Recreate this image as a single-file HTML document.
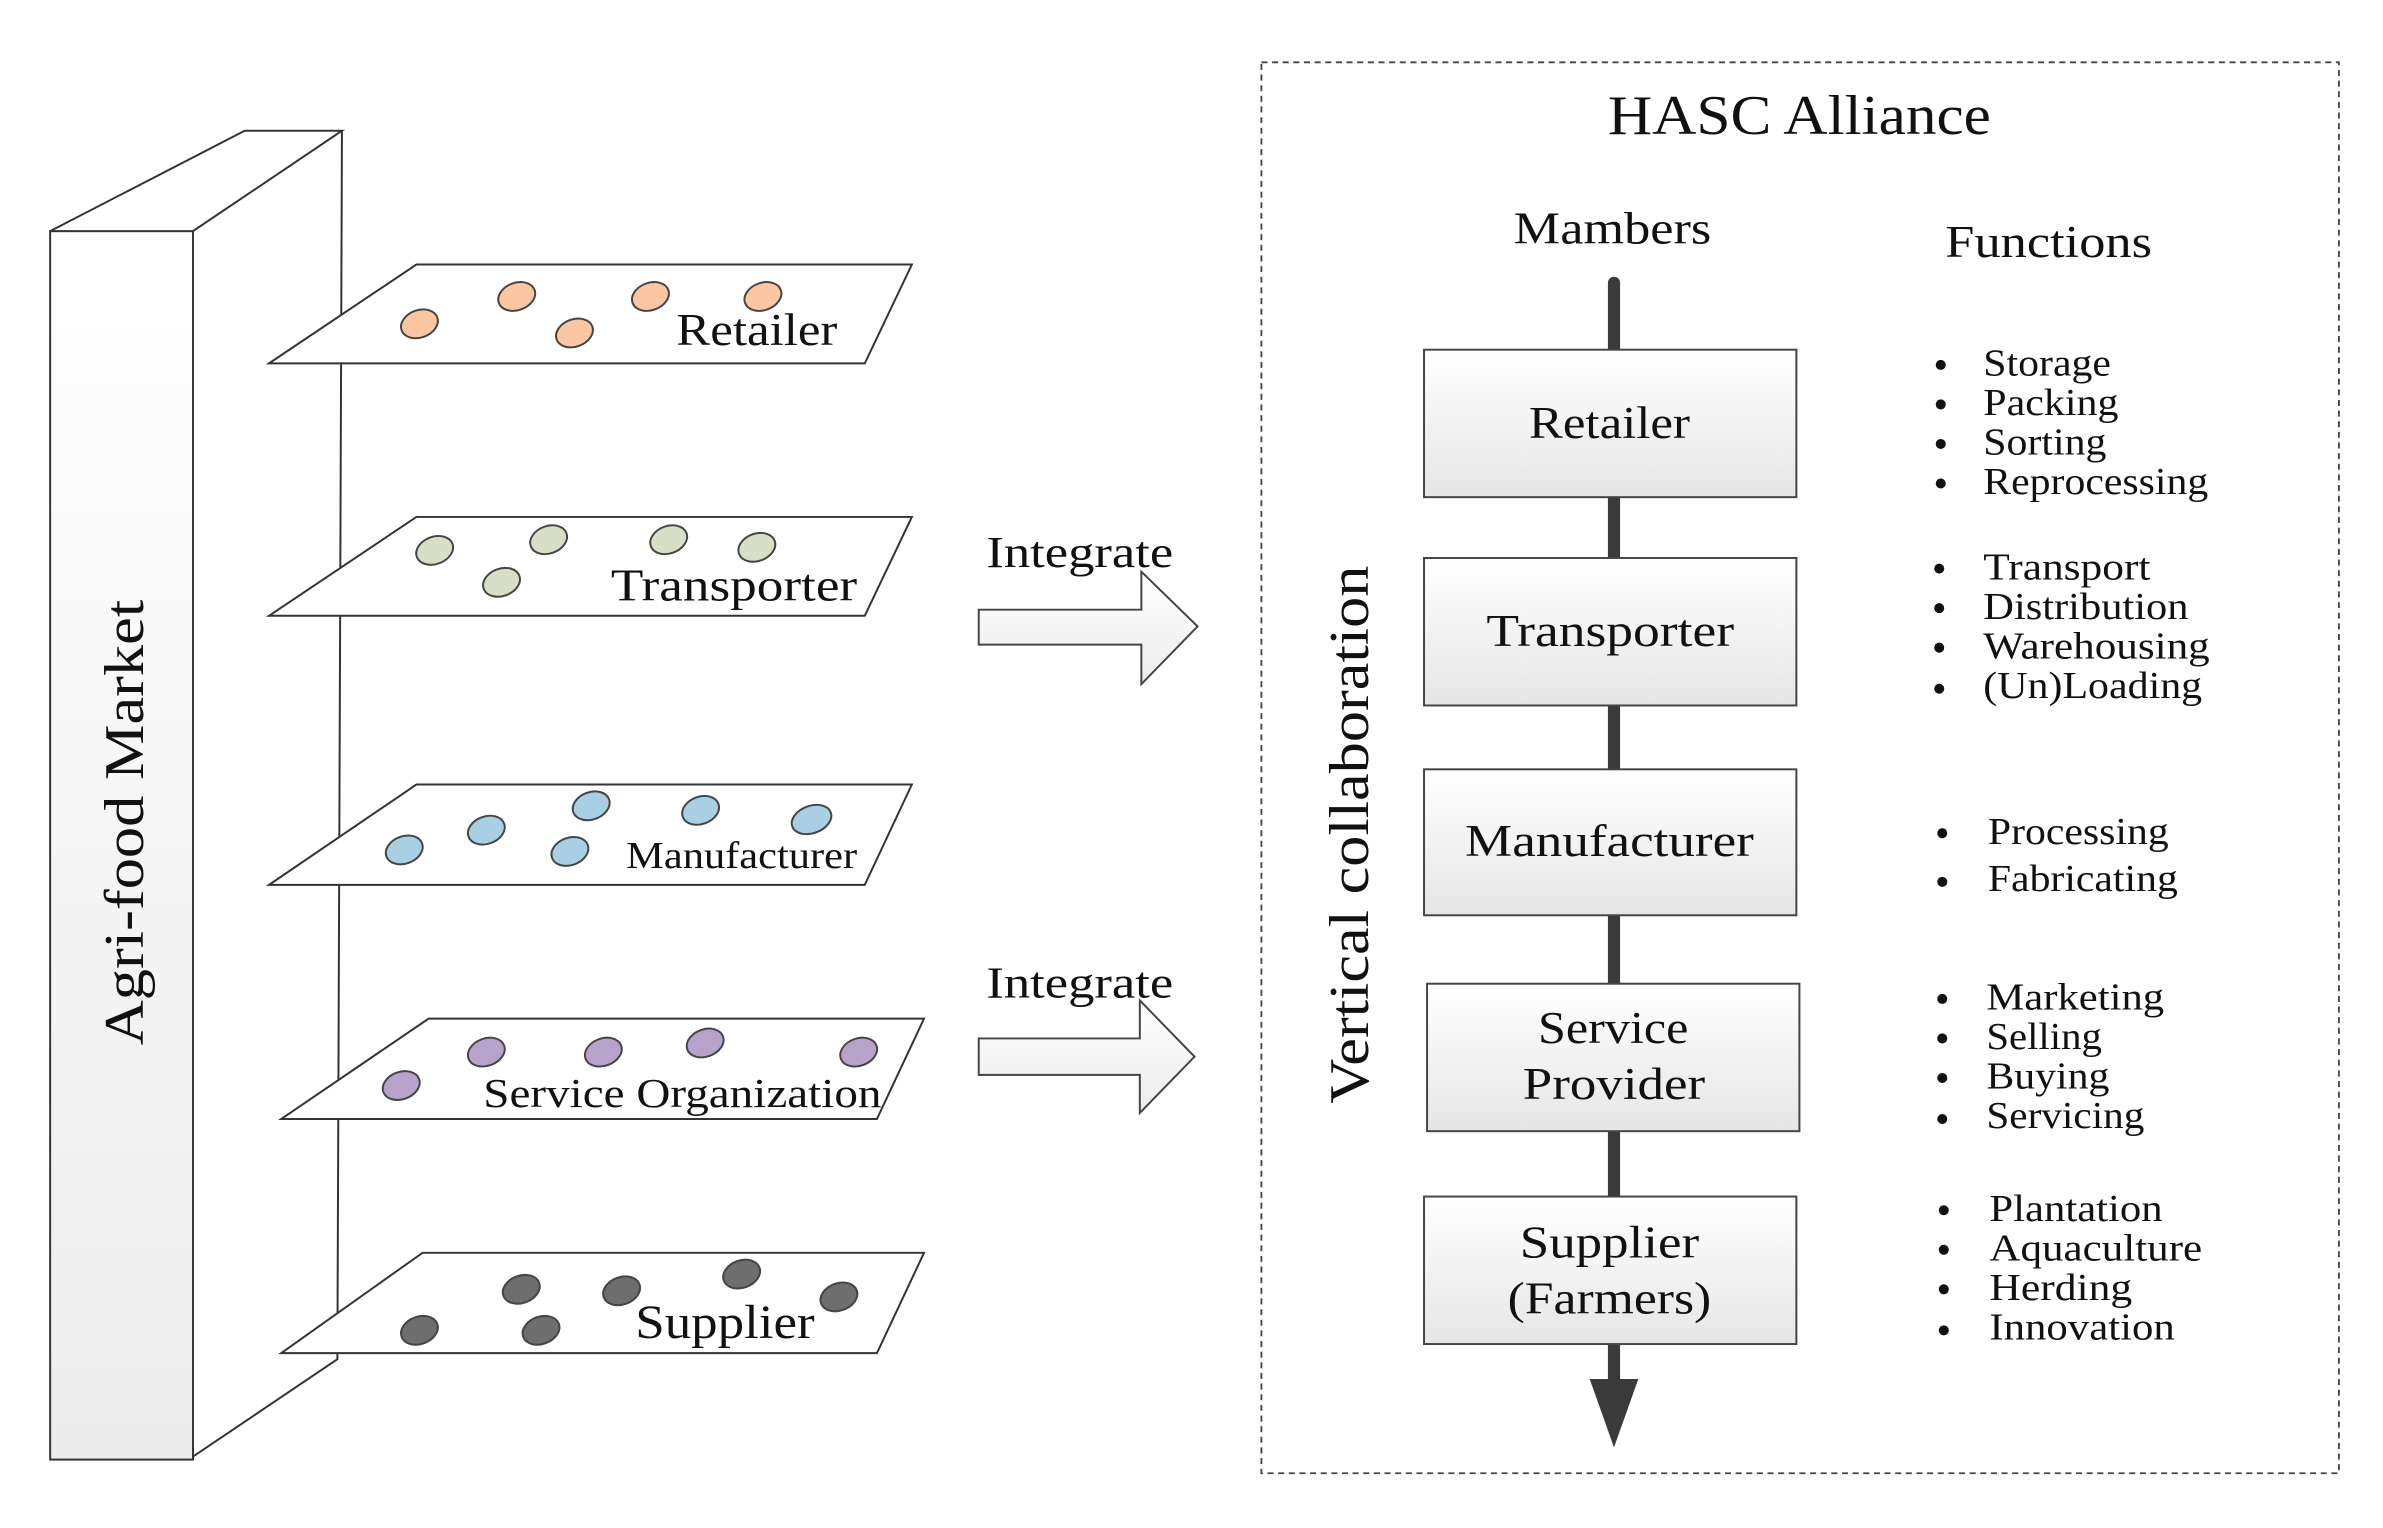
<!DOCTYPE html>
<html><head><meta charset="utf-8"><style>
html,body{margin:0;padding:0;background:#fff;}
svg{display:block;}
text{font-family:"Liberation Serif",serif;fill:#111;}
</style></head><body>
<svg width="2383" height="1528" viewBox="0 0 1568 1005" preserveAspectRatio="none" xmlns="http://www.w3.org/2000/svg">
<defs>
<linearGradient id="col" x1="0" y1="0" x2="0" y2="1"><stop offset="0" stop-color="#fff"/><stop offset="1" stop-color="#ececec"/></linearGradient>
<linearGradient id="box" x1="0" y1="0" x2="0" y2="1"><stop offset="0" stop-color="#fff"/><stop offset="1" stop-color="#e6e6e6"/></linearGradient>
<linearGradient id="arr" x1="0" y1="0" x2="0" y2="1"><stop offset="0" stop-color="#fff"/><stop offset="1" stop-color="#ececec"/></linearGradient>
</defs>
<g stroke="#333" stroke-width="1.3">
<rect x="33" y="152" width="94" height="808" fill="url(#col)"/>
<polygon points="33,152 161,86 225,86 127,152" fill="#fff"/>
<polyline points="225,86 222,894 127,958" fill="none"/>
</g>
<text transform="translate(94,541) rotate(-90)" font-size="37" text-anchor="middle" textLength="293" lengthAdjust="spacingAndGlyphs">Agri-food Market</text>
<g stroke="#333" stroke-width="1.3" fill="#fff">
<polygon points="177,239 274,174 600,174 569,239"/>
<polygon points="177,405 274,340 600,340 569,405"/>
<polygon points="177,582 274,516 600,516 569,582"/>
<polygon points="185,736 282,670 608,670 577,736"/>
<polygon points="185,890 278,824 608,824 577,890"/>
</g>
<g stroke="#444" stroke-width="1.3">
<g fill="#fbc6a2">
<ellipse cx="276" cy="213" rx="12.5" ry="9" transform="rotate(-20 276 213)"/>
<ellipse cx="340" cy="195" rx="12.5" ry="9" transform="rotate(-20 340 195)"/>
<ellipse cx="378" cy="219" rx="12.5" ry="9" transform="rotate(-20 378 219)"/>
<ellipse cx="428" cy="195" rx="12.5" ry="9" transform="rotate(-20 428 195)"/>
<ellipse cx="502" cy="195" rx="12.5" ry="9" transform="rotate(-20 502 195)"/>
</g>
<g fill="#d7e0c6">
<ellipse cx="286" cy="362" rx="12.5" ry="9" transform="rotate(-20 286 362)"/>
<ellipse cx="361" cy="355" rx="12.5" ry="9" transform="rotate(-20 361 355)"/>
<ellipse cx="330" cy="383" rx="12.5" ry="9" transform="rotate(-20 330 383)"/>
<ellipse cx="440" cy="355" rx="12.5" ry="9" transform="rotate(-20 440 355)"/>
<ellipse cx="498" cy="360" rx="12.5" ry="9" transform="rotate(-20 498 360)"/>
</g>
<g fill="#a8cfe4">
<ellipse cx="266" cy="559" rx="12.5" ry="9" transform="rotate(-20 266 559)"/>
<ellipse cx="320" cy="546" rx="12.5" ry="9" transform="rotate(-20 320 546)"/>
<ellipse cx="389" cy="530" rx="12.5" ry="9" transform="rotate(-20 389 530)"/>
<ellipse cx="375" cy="560" rx="12.5" ry="9" transform="rotate(-20 375 560)"/>
<ellipse cx="461" cy="533" rx="12.5" ry="9" transform="rotate(-20 461 533)"/>
<ellipse cx="534" cy="539" rx="13.5" ry="9" transform="rotate(-20 534 539)"/>
</g>
<g fill="#b7a2cc">
<ellipse cx="264" cy="714" rx="12.5" ry="9" transform="rotate(-20 264 714)"/>
<ellipse cx="320" cy="692" rx="12.5" ry="9" transform="rotate(-20 320 692)"/>
<ellipse cx="397" cy="692" rx="12.5" ry="9" transform="rotate(-20 397 692)"/>
<ellipse cx="464" cy="686" rx="12.5" ry="9" transform="rotate(-20 464 686)"/>
<ellipse cx="565" cy="692" rx="12.5" ry="9" transform="rotate(-20 565 692)"/>
</g>
<g fill="#6e6e6e">
<ellipse cx="276" cy="875" rx="12.5" ry="9" transform="rotate(-20 276 875)"/>
<ellipse cx="343" cy="848" rx="12.5" ry="9" transform="rotate(-20 343 848)"/>
<ellipse cx="356" cy="875" rx="12.5" ry="9" transform="rotate(-20 356 875)"/>
<ellipse cx="409" cy="849" rx="12.5" ry="9" transform="rotate(-20 409 849)"/>
<ellipse cx="488" cy="838" rx="12.5" ry="9" transform="rotate(-20 488 838)"/>
<ellipse cx="552" cy="853" rx="12.5" ry="9" transform="rotate(-20 552 853)"/>
</g>
</g>
<text x="445" y="227" font-size="30" textLength="106" lengthAdjust="spacingAndGlyphs">Retailer</text>
<text x="402" y="395" font-size="30" textLength="162" lengthAdjust="spacingAndGlyphs">Transporter</text>
<text x="412" y="571" font-size="25" textLength="152" lengthAdjust="spacingAndGlyphs">Manufacturer</text>
<text x="318" y="728" font-size="27" textLength="262" lengthAdjust="spacingAndGlyphs">Service Organization</text>
<text x="418" y="880" font-size="31" textLength="118" lengthAdjust="spacingAndGlyphs">Supplier</text>
<text x="649" y="373" font-size="29" textLength="123" lengthAdjust="spacingAndGlyphs">Integrate</text>
<text x="649" y="656" font-size="29" textLength="123" lengthAdjust="spacingAndGlyphs">Integrate</text>
<g stroke="#444" stroke-width="1.3" fill="url(#arr)">
<polygon points="644,401 751,401 751,376 788,412 751,450 751,424 644,424"/>
<polygon points="644,683 750,683 750,658 786,695 750,732 750,707 644,707"/>
</g>
<rect x="830" y="41" width="709" height="928" fill="none" stroke="#444" stroke-width="1.2" stroke-dasharray="4,3"/>
<text x="1058" y="88" font-size="37" textLength="252" lengthAdjust="spacingAndGlyphs">HASC Alliance</text>
<text x="996" y="160" font-size="30" textLength="130" lengthAdjust="spacingAndGlyphs">Mambers</text>
<text x="1280" y="169" font-size="30" textLength="136" lengthAdjust="spacingAndGlyphs">Functions</text>
<line x1="1062" y1="186" x2="1062" y2="912" stroke="#3a3a3a" stroke-width="8" stroke-linecap="round"/>
<polygon points="1046,907 1078,907 1062,952" fill="#3a3a3a"/>
<g stroke="#444" stroke-width="1.3" fill="url(#box)">
<rect x="937" y="230" width="245" height="97"/>
<rect x="937" y="367" width="245" height="97"/>
<rect x="937" y="506" width="245" height="96"/>
<rect x="939" y="647" width="245" height="97"/>
<rect x="937" y="787" width="245" height="97"/>
</g>
<g font-size="30">
<text x="1006" y="288" textLength="106" lengthAdjust="spacingAndGlyphs">Retailer</text>
<text x="978" y="425" textLength="163" lengthAdjust="spacingAndGlyphs">Transporter</text>
<text x="964" y="563" textLength="190" lengthAdjust="spacingAndGlyphs">Manufacturer</text>
<text x="1012" y="686" textLength="99" lengthAdjust="spacingAndGlyphs">Service</text>
<text x="1002" y="723" textLength="120" lengthAdjust="spacingAndGlyphs">Provider</text>
<text x="1000" y="827" textLength="118" lengthAdjust="spacingAndGlyphs">Supplier</text>
<text x="992" y="864" textLength="134" lengthAdjust="spacingAndGlyphs">(Farmers)</text>
</g>
<text transform="translate(900,549) rotate(-90)" font-size="37" text-anchor="middle" textLength="354" lengthAdjust="spacingAndGlyphs">Vertical collaboration</text>
<g font-size="25">
<text x="1305" y="247" textLength="84" lengthAdjust="spacingAndGlyphs">Storage</text><text x="1305" y="273" textLength="89" lengthAdjust="spacingAndGlyphs">Packing</text><text x="1305" y="299" textLength="81" lengthAdjust="spacingAndGlyphs">Sorting</text><text x="1305" y="325" textLength="148" lengthAdjust="spacingAndGlyphs">Reprocessing</text>
<text x="1305" y="381" textLength="110" lengthAdjust="spacingAndGlyphs">Transport</text><text x="1305" y="407" textLength="135" lengthAdjust="spacingAndGlyphs">Distribution</text><text x="1305" y="433" textLength="149" lengthAdjust="spacingAndGlyphs">Warehousing</text><text x="1305" y="459" textLength="144" lengthAdjust="spacingAndGlyphs">(Un)Loading</text>
<text x="1308" y="555" textLength="119" lengthAdjust="spacingAndGlyphs">Processing</text><text x="1308" y="586" textLength="125" lengthAdjust="spacingAndGlyphs">Fabricating</text>
<text x="1307" y="664" textLength="117" lengthAdjust="spacingAndGlyphs">Marketing</text><text x="1307" y="690" textLength="76" lengthAdjust="spacingAndGlyphs">Selling</text><text x="1307" y="716" textLength="81" lengthAdjust="spacingAndGlyphs">Buying</text><text x="1307" y="742" textLength="104" lengthAdjust="spacingAndGlyphs">Servicing</text>
<text x="1309" y="803" textLength="114" lengthAdjust="spacingAndGlyphs">Plantation</text><text x="1309" y="829" textLength="140" lengthAdjust="spacingAndGlyphs">Aquaculture</text><text x="1309" y="855" textLength="94" lengthAdjust="spacingAndGlyphs">Herding</text><text x="1309" y="881" textLength="122" lengthAdjust="spacingAndGlyphs">Innovation</text>
</g>
<g fill="#111">
<circle cx="1277" cy="240" r="3.3"/><circle cx="1277" cy="266" r="3.3"/><circle cx="1277" cy="292" r="3.3"/><circle cx="1277" cy="318" r="3.3"/>
<circle cx="1276" cy="374" r="3.3"/><circle cx="1276" cy="400" r="3.3"/><circle cx="1276" cy="426" r="3.3"/><circle cx="1276" cy="453" r="3.3"/>
<circle cx="1278" cy="548" r="3.3"/><circle cx="1278" cy="580" r="3.3"/>
<circle cx="1278" cy="657" r="3.3"/><circle cx="1278" cy="683" r="3.3"/><circle cx="1278" cy="709" r="3.3"/><circle cx="1278" cy="736" r="3.3"/>
<circle cx="1279" cy="796" r="3.3"/><circle cx="1279" cy="822" r="3.3"/><circle cx="1279" cy="848" r="3.3"/><circle cx="1279" cy="875" r="3.3"/>
</g>
</svg>
</body></html>
